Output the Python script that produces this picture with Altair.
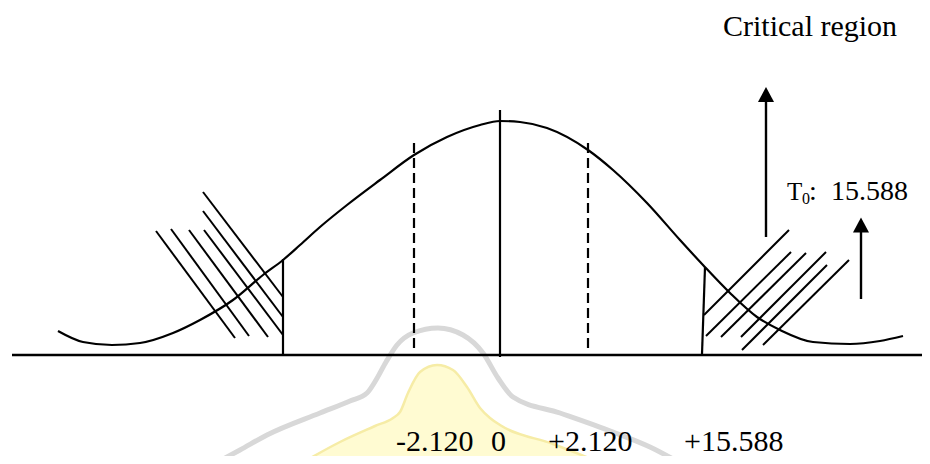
import altair as alt
import pandas as pd

# ---------------- diagram data (figure's own pixel-like units) ----------------
# bell curve drawn by hand
curve_x = [58, 83, 112, 140, 173, 200, 233, 263, 283, 300, 320, 347, 380, 414, 447,
           480, 500, 520, 547, 588, 613, 647, 680, 703, 730, 757, 780, 813, 850, 880, 903]
curve_y = [331, 342, 345, 343, 333, 320, 300, 275, 260, 245, 227, 205, 180, 155, 137,
           125, 121, 122, 128, 150, 170, 203, 240, 265, 293, 317, 330, 342, 344, 341, 336]

# solid straight strokes: baseline, centre line, critical bounds, arrow shafts
solid_x1 = [12, 500, 283, 705, 766, 861]
solid_y1 = [355, 110, 259, 267, 237, 299]
solid_x2 = [930, 500, 283, 702, 766, 861]
solid_y2 = [355, 357, 355, 354, 100, 230]
solid_w = [2.5, 2.2, 2.2, 2.2, 2.4, 2.4]

# dashed acceptance bounds (-2.120 / +2.120)
dash_x = [414, 588]
dash_top = [143, 143]
dash_bot = [350, 350]

# hatching of the left critical region
hatchL_x1 = [156, 171, 189, 204, 203, 203]
hatchL_y1 = [231, 229, 230, 230, 211, 192]
hatchL_x2 = [235, 249, 268, 283, 283, 283]
hatchL_y2 = [338, 336, 337, 335, 317, 297]

# hatching of the right critical region
hatchR_x1 = [704, 706, 721, 741, 742, 763]
hatchR_y1 = [315, 336, 337, 337, 350, 345]
hatchR_x2 = [789, 791, 806, 826, 827, 849]
hatchR_y2 = [230, 252, 253, 252, 265, 260]

# arrow heads
head_x = [766, 861]
head_y = [94.5, 225]

# axis-value labels under the diagram
label_text = ["-2.120", "0", "+2.120", "+15.588"]
label_x = [396, 491, 548, 684]
label_y = [451, 451, 451, 451]

# annotation texts
note_text = ["Critical region", "T", "0", ":", "15.588"]
note_x = [723, 787, 802, 809, 831]
note_y = [36, 200, 204, 200, 200]
note_size = [30, 25, 16, 28, 28]

# faint watermark (grey outline + pale yellow shape)
wm_out_x = [214, 240, 267, 320, 350, 367, 376, 386, 397, 413, 438, 463, 483, 498,
            513, 560, 613, 650, 682]
wm_out_y = [464, 450, 435, 413, 401, 393, 380, 362, 345, 333, 328, 335, 353, 378,
            397, 413, 432, 447, 464]
wm_in_x = [300, 340, 375, 393, 400, 408, 420, 437, 453, 467, 480, 490, 500, 553, 604]
wm_in_y = [464, 442, 426, 418, 412, 393, 372, 365, 370, 387, 408, 418, 425, 444, 464]

# ---------------- chart ----------------
W, H = 914, 448
XS = alt.Scale(domain=[8, 8 + W], nice=False, zero=False)
YS = alt.Scale(domain=[8, 8 + H], nice=False, zero=False, reverse=True)
NOAX = None


def X(f):
    return alt.X(f, type="quantitative", scale=XS, axis=NOAX)


def Y(f):
    return alt.Y(f, type="quantitative", scale=YS, axis=NOAX)


wm_out = pd.DataFrame({"x": wm_out_x, "y": wm_out_y})
wm_in = pd.DataFrame({"x": wm_in_x, "y": wm_in_y, "y2": [470] * len(wm_in_x)})

wm_fill = alt.Chart(wm_in).mark_area(
    interpolate="monotone", fill="#FFFBD2", stroke="#F6ECA6", strokeWidth=2.5
).encode(x=X("x"), y=Y("y"), y2="y2")

wm_line = alt.Chart(wm_out).mark_line(
    interpolate="monotone", color="#D8D8D8", strokeWidth=5
).encode(x=X("x"), y=Y("y"))

curve = alt.Chart(pd.DataFrame({"x": curve_x, "y": curve_y})).mark_line(
    interpolate="monotone", color="black", strokeWidth=2.2
).encode(x=X("x"), y=Y("y"))

solid = alt.Chart(pd.DataFrame({"x1": solid_x1, "y1": solid_y1, "x2": solid_x2,
                                "y2": solid_y2, "w": solid_w})).mark_rule(
    color="black"
).encode(x=X("x1"), y=Y("y1"), x2="x2", y2="y2",
         strokeWidth=alt.StrokeWidth("w:Q", scale=None, legend=None))

dashed = alt.Chart(pd.DataFrame({"x": dash_x, "t": dash_top, "b": dash_bot})).mark_rule(
    color="black", strokeWidth=2.2, strokeDash=[10, 5]
).encode(x=X("x"), y=Y("t"), y2="b")

hatch = pd.DataFrame({
    "x1": hatchL_x1 + hatchR_x1, "y1": hatchL_y1 + hatchR_y1,
    "x2": hatchL_x2 + hatchR_x2, "y2": hatchL_y2 + hatchR_y2,
})
hatching = alt.Chart(hatch).mark_rule(color="black", strokeWidth=2).encode(
    x=X("x1"), y=Y("y1"), x2="x2", y2="y2")

heads = alt.Chart(pd.DataFrame({"x": head_x, "y": head_y})).mark_point(
    shape="M0,-1L1.07,1L-1.07,1Z", size=225, filled=True, color="black", opacity=1
).encode(x=X("x"), y=Y("y"))

labels = alt.Chart(pd.DataFrame({"x": label_x, "y": label_y, "t": label_text})).mark_text(
    align="left", baseline="alphabetic", font="Liberation Serif", fontSize=30, color="black"
).encode(x=X("x"), y=Y("y"), text="t:N")

notes = alt.Chart(pd.DataFrame({"x": note_x, "y": note_y, "t": note_text,
                                "s": note_size})).mark_text(
    align="left", baseline="alphabetic", font="Liberation Serif", color="black"
).encode(x=X("x"), y=Y("y"), text="t:N",
         size=alt.Size("s:Q", scale=None, legend=None))

chart = alt.layer(
    wm_line, wm_fill, dashed, solid, hatching, curve, heads, labels, notes
).properties(
    width=W, height=H, padding=0, autosize=alt.AutoSizeParams(type="none"),
    background="white"
).configure_view(stroke=None)

chart.save("out.html", embed_options={"renderer": "svg", "actions": False})
